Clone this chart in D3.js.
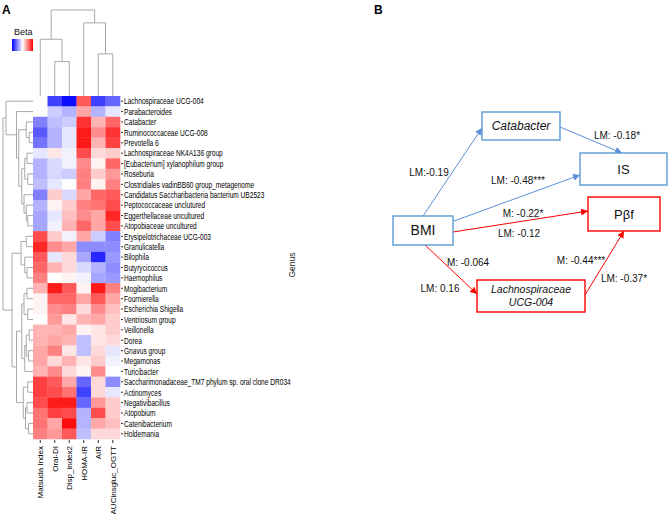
<!DOCTYPE html>
<html>
<head>
<meta charset="utf-8">
<script src="https://cdn.jsdelivr.net/npm/d3@7"></script>
<style>
  body { margin: 0; background: #fff; }
  text { font-family: "Liberation Sans", Arial, sans-serif; }
</style>
</head>
<body>
<svg width="669" height="514"></svg>
<script>
// heatmap rows (genera) in dendrogram order
const genera = [
  "Lachnospiraceae UCG-004", "Parabacteroides", "Catabacter", "Ruminococcaceae UCG-008",
  "Prevotella 6", "Lachnospiraceae NK4A136 group", "[Eubacterium] xylanophilum group",
  "Roseburia", "Clostridiales vadinBB60 group_metagenome",
  "Candidatus Saccharibacteria bacterium UB2523", "Peptococcaceae unclutured",
  "Eggerthellaceae uncultured", "Atopobiaceae uncultured", "Erysipelotrichaceae UCG-003",
  "Granulicatella", "Bilophila", "Butyrycicoccus", "Haemophilus", "Mogibacterium",
  "Fournierella", "Escherichia Shigella", "Ventriosum group", "Veillonella", "Dorea",
  "Gnavus group", "Megamonas", "Turicibacter",
  "Saccharimonadaceae_TM7 phylum sp. oral clone DR034", "Actinomyces", "Negativibacillus",
  "Atopobium", "Catenibacterium", "Holdemania"
];

// heatmap columns
const measures = ["Matsuda Index", "Oral-DI", "Disp_index2", "HOMA-IR", "AIR", "AUCinsgluc_OGTT"];

// beta values, one row per genus, one value per measure
const beta = [
  [ 0.00, -0.75, -0.95,  0.65, -0.75, -0.60],
  [ 0.00, -0.20, -0.30,  0.35, -0.30, -0.10],
  [-0.50, -0.25, -0.20,  0.80,  0.30,  0.60],
  [-0.65, -0.30, -0.10,  0.90,  0.45,  0.80],
  [-0.55, -0.30, -0.10,  0.90,  0.30,  0.75],
  [-0.10,  0.10, -0.05,  0.70,  0.15,  0.20],
  [-0.30, -0.15, -0.05,  0.45,  0.05,  0.60],
  [-0.30, -0.15, -0.20,  0.50,  0.20,  0.40],
  [-0.25, -0.10,  0.00,  0.50,  0.05,  0.50],
  [-0.50,  0.20, -0.15,  0.35,  0.60,  0.65],
  [-0.30,  0.05,  0.20,  0.50,  0.55,  0.70],
  [-0.35, -0.10,  0.25,  0.45,  0.35,  0.85],
  [-0.35, -0.05,  0.30,  0.60,  0.35,  0.70],
  [ 0.70,  0.20, -0.05,  0.35, -0.20, -0.50],
  [ 0.85,  0.45,  0.35, -0.45, -0.45, -0.45],
  [ 0.65, -0.10,  0.15, -0.35, -0.85, -0.40],
  [ 0.60,  0.30,  0.15, -0.15, -0.30, -0.45],
  [ 0.50,  0.00,  0.05, -0.05, -0.35, -0.40],
  [ 0.30,  0.90,  0.65,  0.05,  0.90,  0.50],
  [ 0.05,  0.60,  0.60,  0.35,  0.65,  0.35],
  [ 0.05,  0.45,  0.50,  0.15,  0.45,  0.25],
  [ 0.00,  0.40,  0.10,  0.30,  0.35,  0.20],
  [ 0.30,  0.30,  0.35,  0.05,  0.10,  0.20],
  [ 0.30,  0.35,  0.30, -0.25,  0.10,  0.15],
  [ 0.35,  0.50,  0.10, -0.25,  0.15, -0.10],
  [ 0.35,  0.15,  0.30,  0.10,  0.20, -0.05],
  [ 0.30,  0.45,  0.15,  0.05,  0.45,  0.00],
  [ 0.75,  0.65,  0.35, -0.60,  0.15, -0.45],
  [ 0.75,  0.70,  0.55, -0.75,  0.15, -0.10],
  [ 0.70,  0.90,  0.90, -0.60,  0.40,  0.20],
  [ 0.55,  0.75,  0.70, -0.30,  0.70,  0.20],
  [ 0.55,  0.35,  0.95, -0.30,  0.35,  0.25],
  [ 0.50,  0.40,  0.65, -0.25,  0.15,  0.15]
];

// dendrograms: [height, left, right], leaves are indices
const colTree = [1.0, [0.66, 0, [0.40, 1, 2]], [0.85, 3, [0.49, 4, 5]]];
const rowTree = [4.0,
  [3.6, 0, [2.2, 1, [1.9, [0.9, 2, [0.5, 3, 4]],
    [1.5, [1.1, [0.8, 5, 6], [0.7, 7, 8]], [1.2, 9, [0.9, 10, [0.7, 11, 12]]]]]]],
  [2.8, [1.6, [0.9, 13, 14], [1.1, 15, [0.8, 16, 17]]],
    [2.2, [1.5, [1.2, [0.8, 18, 19], [0.7, 20, 21]], [1.1, [0.9, [0.5, 22, 23], [0.6, 24, 25]], 26]],
      [1.3, [0.7, 27, 28], [1.0, [0.8, 29, 30], [0.6, 31, 32]]]]]];

// path diagram (panel B)
const nodes = ["BMI", "Catabacter", "IS", "Pβf", "Lachnospiraceae UCG-004"];
const edges = [
  { from: "BMI", to: "Catabacter", group: "blue" },
  { from: "BMI", to: "IS", group: "blue" },
  { from: "Catabacter", to: "IS", group: "blue" },
  { from: "BMI", to: "Pβf", group: "red" },
  { from: "BMI", to: "Lachnospiraceae UCG-004", group: "red" },
  { from: "Lachnospiraceae UCG-004", to: "Pβf", group: "red" }
];
const edgeLabels = ["LM:-0.19", "LM: -0.48***", "LM: -0.18*", "M: -0.22*", "LM: -0.12",
                    "M: -0.064", "LM: 0.16", "M: -0.44***", "LM: -0.37*"];

const svg = d3.select("svg");
svg.append("rect").attr("width", 669).attr("height", 514).attr("fill", "#fff");

// ---------- panel A ----------
const x = d3.scaleBand().domain(measures).range([33, 120]);
const y = d3.scaleBand().domain(genera).range([96, 439]);
const color = d3.scaleLinear().domain([-1, 0, 1]).range(["#0000ff", "#ffffff", "#ff0000"]);

const cells = [];
beta.forEach((row, i) => row.forEach((v, j) => cells.push({ g: genera[i], m: measures[j], v })));

svg.append("g").selectAll("rect")
  .data(cells)
  .join("rect")
  .attr("x", d => x(d.m))
  .attr("y", d => y(d.g))
  .attr("width", x.bandwidth() + 0.3)
  .attr("height", y.bandwidth() + 0.3)
  .attr("fill", d => color(d.v));

// dendrograms
function treeSegments(node, leafPos, hScale, segs) {
  if (typeof node === "number") return [leafPos(node), 0];
  const [h, a, b] = node;
  const A = treeSegments(a, leafPos, hScale, segs);
  const B = treeSegments(b, leafPos, hScale, segs);
  segs.push([A[0], hScale(A[1]), A[0], hScale(h)]);
  segs.push([B[0], hScale(B[1]), B[0], hScale(h)]);
  segs.push([A[0], hScale(h), B[0], hScale(h)]);
  return [(A[0] + B[0]) / 2, h];
}

const colH = d3.scaleLinear().domain([0, 1]).range([96, 10]);
const colSegs = [];
treeSegments(colTree, i => x(measures[i]) + x.bandwidth() / 2, colH, colSegs);
svg.append("g").selectAll("line")
  .data(colSegs)
  .join("line")
  .attr("x1", d => d[0]).attr("y1", d => d[1])
  .attr("x2", d => d[2]).attr("y2", d => d[3])
  .attr("stroke", "#a8a8a8").attr("stroke-width", 1);

const rowH = d3.scaleLinear().domain([0, 4]).range([33, 3]);
const rowSegs = [];
treeSegments(rowTree, i => y(genera[i]) + y.bandwidth() / 2, rowH, rowSegs);
svg.append("g").selectAll("line")
  .data(rowSegs)
  .join("line")
  .attr("x1", d => d[1]).attr("y1", d => d[0])
  .attr("x2", d => d[3]).attr("y2", d => d[2])
  .attr("stroke", "#a8a8a8").attr("stroke-width", 1);

// row labels (narrow face, squeezed horizontally)
const rowLab = svg.append("g").selectAll("g")
  .data(genera)
  .join("g")
  .attr("transform", d => `translate(120,${y(d) + y.bandwidth() / 2})`);
rowLab.append("line").attr("x1", 1).attr("x2", 3).attr("stroke", "#333");
rowLab.append("text")
  .attr("transform", "translate(4,0) scale(0.7,1)")
  .attr("dy", "0.35em")
  .attr("font-size", 9.4)
  .attr("fill", "#000")
  .text(d => d);

// column labels
const colLab = svg.append("g").selectAll("g")
  .data(measures)
  .join("g")
  .attr("transform", d => `translate(${x(d) + x.bandwidth() / 2},439)`);
colLab.append("line").attr("y1", 1).attr("y2", 4).attr("stroke", "#333");
colLab.append("text")
  .attr("transform", "rotate(-90)")
  .attr("x", -7).attr("dy", "0.35em")
  .attr("text-anchor", "end")
  .attr("font-size", 8)
  .attr("fill", "#000")
  .text(d => d);

svg.append("text")
  .attr("transform", "translate(292,265) rotate(-90)")
  .attr("text-anchor", "middle").attr("dy", "0.35em")
  .attr("font-size", 8.5).attr("fill", "#222")
  .text("Genus");

// legend
const grad = svg.append("defs").append("linearGradient").attr("id", "beta-grad");
grad.selectAll("stop")
  .data([-1, -0.5, 0, 0.5, 1])
  .join("stop")
  .attr("offset", d => `${(d + 1) * 50}%`)
  .attr("stop-color", d => color(d));
svg.append("text").attr("x", 14).attr("y", 35).attr("font-size", 9).attr("fill", "#111").text("Beta");
svg.append("rect").attr("x", 12).attr("y", 39).attr("width", 21).attr("height", 12)
  .attr("fill", "url(#beta-grad)");

svg.append("text").attr("x", 2).attr("y", 14).attr("font-size", 12).attr("font-weight", "bold").text("A");
svg.append("text").attr("x", 374).attr("y", 14).attr("font-size", 12).attr("font-weight", "bold").text("B");

// ---------- panel B ----------
const palette = { blue: "#5b8ed6", red: "#ff0000" };
const boxes = {
  "BMI":        { x: 393, y: 216, w: 60, h: 29, c: "#5b9bd5", size: 14, italic: false },
  "Catabacter": { x: 482, y: 112, w: 78, h: 28, c: "#5b9bd5", size: 12, italic: true },
  "IS":         { x: 580, y: 153, w: 87, h: 32, c: "#5b9bd5", size: 13, italic: false },
  "Pβf":        { x: 588, y: 197, w: 72, h: 34, c: "#ff0000", size: 13, italic: false },
  "Lachnospiraceae UCG-004": { x: 477, y: 280, w: 108, h: 32, c: "#ff0000", size: 10.5, italic: true }
};
const anchors = {
  "BMI>Catabacter": [[423, 216], [482, 128]],
  "BMI>IS": [[454, 221], [580, 175]],
  "Catabacter>IS": [[560, 127], [622, 153]],
  "BMI>Pβf": [[453, 232], [588, 211]],
  "BMI>Lachnospiraceae UCG-004": [[425, 245], [477, 294]],
  "Lachnospiraceae UCG-004>Pβf": [[585, 295], [624, 231]]
};
const labelPos = [[429, 172], [518, 180], [617, 135], [523, 213], [519, 233],
                  [468, 262], [440, 288], [581, 260], [624, 278]];

const defs = svg.select("defs");
Object.entries(palette).forEach(([k, c]) => {
  defs.append("marker")
    .attr("id", "arrow-" + k)
    .attr("viewBox", "0 0 10 10")
    .attr("refX", 10).attr("refY", 5)
    .attr("markerWidth", 7).attr("markerHeight", 7)
    .attr("markerUnits", "userSpaceOnUse")
    .attr("orient", "auto")
    .append("path").attr("d", "M0,0L10,5L0,10z").attr("fill", c);
});

svg.append("g").selectAll("line")
  .data(edges)
  .join("line")
  .attr("x1", d => anchors[d.from + ">" + d.to][0][0])
  .attr("y1", d => anchors[d.from + ">" + d.to][0][1])
  .attr("x2", d => anchors[d.from + ">" + d.to][1][0])
  .attr("y2", d => anchors[d.from + ">" + d.to][1][1])
  .attr("stroke", d => palette[d.group])
  .attr("stroke-width", 1)
  .attr("marker-end", d => `url(#arrow-${d.group})`);

const nodeG = svg.append("g").selectAll("g")
  .data(nodes)
  .join("g")
  .attr("transform", d => `translate(${boxes[d].x},${boxes[d].y})`);
nodeG.append("rect")
  .attr("width", d => boxes[d].w).attr("height", d => boxes[d].h)
  .attr("fill", "#fff").attr("stroke", d => boxes[d].c).attr("stroke-width", 1.4);
nodeG.each(function (d) {
  const b = boxes[d];
  const lines = d === "Lachnospiraceae UCG-004" ? ["Lachnospiraceae", "UCG-004"] : [d];
  const t = d3.select(this).append("text")
    .attr("text-anchor", "middle")
    .attr("font-size", b.size)
    .attr("font-style", b.italic ? "italic" : "normal")
    .attr("fill", "#111");
  lines.forEach((s, i) => {
    t.append("tspan")
      .attr("x", b.w / 2)
      .attr("y", b.h / 2 + (i - (lines.length - 1) / 2) * 13)
      .attr("dy", "0.35em")
      .text(s);
  });
});

svg.append("g").selectAll("text")
  .data(edgeLabels)
  .join("text")
  .attr("x", (d, i) => labelPos[i][0])
  .attr("y", (d, i) => labelPos[i][1])
  .attr("dy", "0.35em")
  .attr("text-anchor", "middle")
  .attr("font-size", 10)
  .attr("fill", "#111")
  .text(d => d);
</script>
</body>
</html>
